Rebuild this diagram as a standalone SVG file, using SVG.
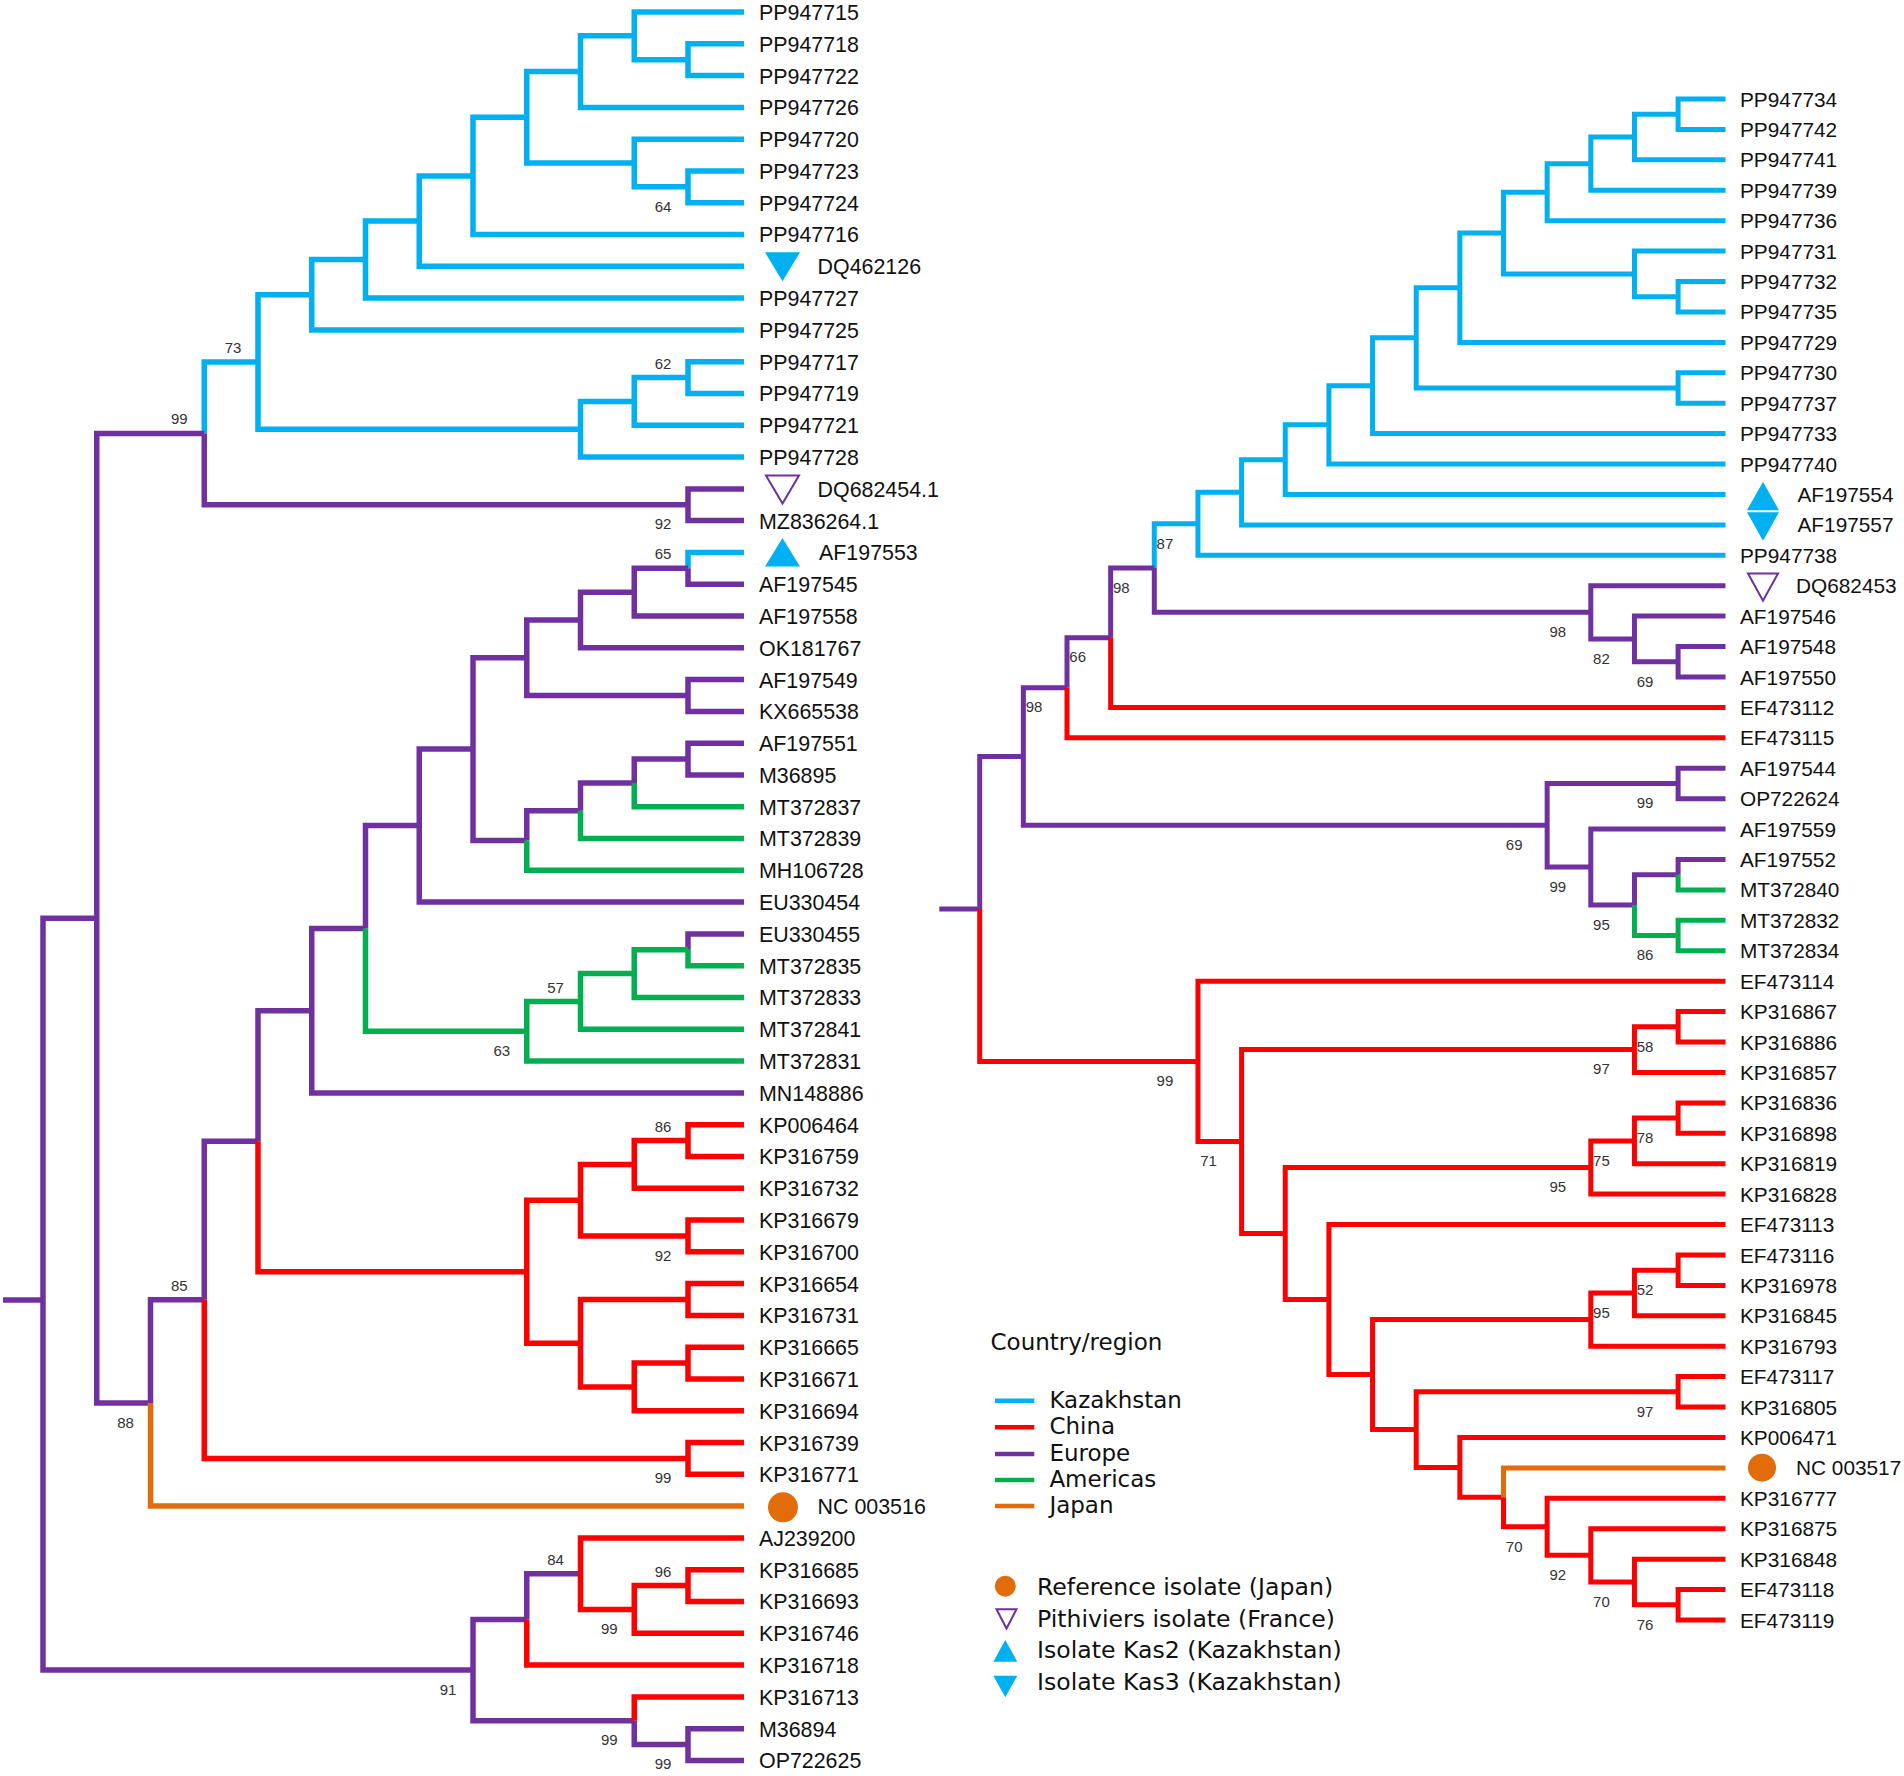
<svg xmlns="http://www.w3.org/2000/svg" width="1904" height="1776" viewBox="0 0 1904 1776">
<style>
.br{fill:none;stroke-linejoin:miter;stroke-linecap:butt}
.bl{stroke-width:5.5}
.bright{stroke-width:5}
.cy{stroke:#00B0F0}
.pu{stroke:#7030A0}
.gr{stroke:#00B050}
.rd{stroke:#FF0000}
.or{stroke:#E36C0A}
.lt{font-family:"Liberation Sans",Arial,sans-serif;font-size:21.4px;fill:#111}
.rt{font-family:"Liberation Sans",Arial,sans-serif;font-size:20.8px;fill:#111}
.bs{font-family:"Liberation Sans",Arial,sans-serif;font-size:15px;fill:#333;text-anchor:middle}
.lg{font-family:"DejaVu Sans","Liberation Sans",sans-serif;font-size:23px;fill:#111}
.lg2{font-family:"DejaVu Sans","Liberation Sans",sans-serif;font-size:23.6px;fill:#111}
.fcy{fill:#00B0F0}
.fop{fill:none;stroke:#7030A0;stroke-width:2}
.for{fill:#E36C0A}
</style>
<rect width="1904" height="1776" fill="#fff"/>
<g id="connectors">
<g id="left-branches" class="br bl">
<path class="cy" d="M204.25 433.4V362H258M258 362V294.75H311.75M258 362V429.2H580.5M311.75 294.75V259.6H365.5M311.75 294.75V329.9H744M365.5 259.6V221.1H419.25M365.5 259.6V298.1H744M419.25 221.1V175.9H473M419.25 221.1V266.3H744M473 175.9V117.3H526.75M473 175.9V234.5H744M526.75 117.3V71.6H580.5M526.75 117.3V163H634.25M580.5 71.6V35.85H634.25M580.5 71.6V107.4H744M634.25 35.85V12H744M634.25 35.85V59.7H688M688 59.7V43.8H744M688 59.7V75.6H744M634.25 163V139.2H744M634.25 163V186.85H688M688 186.85V171H744M688 186.85V202.7H744M580.5 429.2V401.4H634.25M580.5 429.2V457.1H744M634.25 401.4V377.6H688M634.25 401.4V425.3H744M688 377.6V361.7H744M688 377.6V393.5H744M688 568.3V552.4H744"/>
<path class="pu" d="M3 1300H43M43 1300V918.2H96.75M43 1300V1670.05H473M96.75 918.2V433.4H204.25M96.75 918.2V1403H150.5M204.25 433.4V504.75H688M688 504.75V488.9H744M688 504.75V520.6H744M150.5 1403V1299.8H204.25M204.25 1299.8V1141.2H258M258 1141.2V1010.7H311.75M311.75 1010.7V928.5H365.5M311.75 1010.7V1092.9H744M365.5 928.5V825.6H419.25M419.25 825.6V749.1H473M419.25 825.6V902.1H744M473 749.1V657.75H526.75M473 749.1V840.5H526.75M526.75 657.75V620H580.5M526.75 657.75V695.5H688M580.5 620V592.2H634.25M580.5 620V647.8H744M634.25 592.2V568.3H688M634.25 592.2V616H744M688 568.3V584.2H744M688 695.5V679.6H744M688 695.5V711.4H744M526.75 840.5V810.7H580.5M580.5 810.7V782.9H634.25M634.25 782.9V759.1H688M688 759.1V743.2H744M688 759.1V775H744M688 949.8V933.9H744M473 1670.05V1619.4H526.75M473 1670.05V1720.7H634.25M526.75 1619.4V1573.7H580.5M634.25 1720.7V1744.6H688M688 1744.6V1728.7H744M688 1744.6V1760.5H744"/>
<path class="gr" d="M365.5 928.5V1031.3H526.75M526.75 1031.3V1001.5H580.5M526.75 1031.3V1061.1H744M580.5 1001.5V973.6H634.25M580.5 1001.5V1029.3H744M634.25 973.6V949.8H688M634.25 973.6V997.5H744M688 949.8V965.7H744M526.75 840.5V870.3H744M580.5 810.7V838.5H744M634.25 782.9V806.8H744"/>
<path class="rd" d="M204.25 1299.8V1458.4H688M688 1458.4V1442.6H744M688 1458.4V1474.3H744M258 1141.2V1271.7H526.75M526.75 1271.7V1200.15H580.5M526.75 1271.7V1343.2H580.5M580.5 1200.15V1164.4H634.25M580.5 1200.15V1235.9H688M634.25 1164.4V1140.5H688M634.25 1164.4V1188.2H744M688 1140.5V1124.7H744M688 1140.5V1156.4H744M688 1235.9V1220H744M688 1235.9V1251.8H744M580.5 1343.2V1299.5H688M580.5 1343.2V1386.9H634.25M688 1299.5V1283.6H744M688 1299.5V1315.4H744M634.25 1386.9V1363.1H688M634.25 1386.9V1410.8H744M688 1363.1V1347.2H744M688 1363.1V1379H744M526.75 1619.4V1665.1H744M580.5 1573.7V1537.9H744M580.5 1573.7V1609.4H634.25M634.25 1609.4V1585.6H688M634.25 1609.4V1633.3H744M688 1585.6V1569.7H744M688 1585.6V1601.5H744M634.25 1720.7V1696.9H744"/>
<path class="or" d="M150.5 1403V1506.1H744"/>
</g>
<g id="right-branches" class="br bright">
<path class="cy" d="M1154.3 568.05V523.8H1197.95M1197.95 523.8V492.3H1241.6M1197.95 523.8V555.3H1725.5M1241.6 492.3V459.7H1285.25M1241.6 492.3V524.9H1725.5M1285.25 459.7V424.85H1328.9M1285.25 459.7V494.5H1725.5M1328.9 424.85V385.7H1372.55M1328.9 424.85V464H1725.5M1372.55 385.7V337.85H1416.2M1372.55 385.7V433.6H1725.5M1416.2 337.85V287.7H1459.85M1416.2 337.85V388H1678.1M1678.1 388V372.8H1725.5M1678.1 388V403.2H1725.5M1459.85 287.7V233.05H1503.5M1459.85 287.7V342.4H1725.5M1503.5 233.05V192.2H1547.15M1503.5 233.05V273.9H1634.45M1634.45 273.9V251.1H1725.5M1634.45 273.9V296.7H1678.1M1678.1 296.7V281.5H1725.5M1678.1 296.7V311.9H1725.5M1547.15 192.2V163.65H1590.8M1547.15 192.2V220.7H1725.5M1590.8 163.65V137H1634.45M1590.8 163.65V190.3H1725.5M1634.45 137V114.2H1678.1M1634.45 137V159.8H1725.5M1678.1 114.2V99H1725.5M1678.1 114.2V129.4H1725.5"/>
<path class="pu" d="M939.3 909H979.7M979.7 909V756.5H1023.35M1023.35 756.5V687.75H1067M1023.35 756.5V825.3H1547.15M1067 687.75V637.7H1110.65M1110.65 637.7V568.05H1154.3M1154.3 568.05V612.3H1590.8M1590.8 612.3V585.7H1725.5M1590.8 612.3V638.95H1634.45M1634.45 638.95V616.1H1725.5M1634.45 638.95V661.8H1678.1M1678.1 661.8V646.6H1725.5M1678.1 661.8V677H1725.5M1547.15 825.3V783.45H1678.1M1547.15 825.3V867.1H1590.8M1678.1 783.45V768.2H1725.5M1678.1 783.45V798.7H1725.5M1590.8 867.1V829.1H1725.5M1590.8 867.1V905.1H1634.45M1634.45 905.1V874.7H1678.1M1678.1 874.7V859.5H1725.5"/>
<path class="gr" d="M1634.45 905.1V935.55H1678.1M1678.1 935.55V920.3H1725.5M1678.1 935.55V950.8H1725.5M1678.1 874.7V889.9H1725.5"/>
<path class="rd" d="M979.7 909V1061.4H1197.95M1067 687.75V737.8H1725.5M1110.65 637.7V707.4H1725.5M1197.95 1061.4V981.2H1725.5M1197.95 1061.4V1141.55H1241.6M1241.6 1141.55V1049.6H1634.45M1241.6 1141.55V1233.5H1285.25M1634.45 1049.6V1026.8H1678.1M1634.45 1049.6V1072.4H1725.5M1678.1 1026.8V1011.6H1725.5M1678.1 1026.8V1042H1725.5M1285.25 1233.5V1167.5H1590.8M1285.25 1233.5V1299.55H1328.9M1590.8 1167.5V1140.9H1634.45M1590.8 1167.5V1194.1H1725.5M1634.45 1140.9V1118.1H1678.1M1634.45 1140.9V1163.7H1725.5M1678.1 1118.1V1102.9H1725.5M1678.1 1118.1V1133.3H1725.5M1328.9 1299.55V1224.5H1725.5M1328.9 1299.55V1374.6H1372.55M1372.55 1374.6V1319.6H1590.8M1372.55 1374.6V1429.6H1416.2M1590.8 1319.6V1293H1634.45M1590.8 1319.6V1346.2H1725.5M1634.45 1293V1270.2H1678.1M1634.45 1293V1315.8H1725.5M1678.1 1270.2V1255H1725.5M1678.1 1270.2V1285.4H1725.5M1416.2 1429.6V1391.85H1678.1M1416.2 1429.6V1467.4H1459.85M1678.1 1391.85V1376.6H1725.5M1678.1 1391.85V1407.1H1725.5M1459.85 1467.4V1437.5H1725.5M1459.85 1467.4V1497.35H1503.5M1503.5 1497.35V1526.8H1547.15M1547.15 1526.8V1498.3H1725.5M1547.15 1526.8V1555.35H1590.8M1590.8 1555.35V1528.7H1725.5M1590.8 1555.35V1582H1634.45M1634.45 1582V1559.2H1725.5M1634.45 1582V1604.8H1678.1M1678.1 1604.8V1589.6H1725.5M1678.1 1604.8V1620H1725.5"/>
<path class="or" d="M1503.5 1497.35V1467.9H1725.5"/>
</g>
</g>
<g id="left-leaves" class="lt">
<g id="n-PP947715"><text x="759" y="19.9">PP947715</text></g>
<g id="n-PP947718"><text x="759" y="51.7">PP947718</text></g>
<g id="n-PP947722"><text x="759" y="83.5">PP947722</text></g>
<g id="n-PP947726"><text x="759" y="115.3">PP947726</text></g>
<g id="n-PP947720"><text x="759" y="147.1">PP947720</text></g>
<g id="n-PP947723"><text x="759" y="178.9">PP947723</text></g>
<g id="n-PP947724"><text x="759" y="210.6">PP947724</text></g>
<g id="n-PP947716"><text x="759" y="242.4">PP947716</text></g>
<g id="n-DQ462126"><polygon class="fcy" points="765,252.3 800,252.3 782.5,281.3"/><text x="817.6" y="274.2">DQ462126</text></g>
<g id="n-PP947727"><text x="759" y="306">PP947727</text></g>
<g id="n-PP947725"><text x="759" y="337.8">PP947725</text></g>
<g id="n-PP947717"><text x="759" y="369.6">PP947717</text></g>
<g id="n-PP947719"><text x="759" y="401.4">PP947719</text></g>
<g id="n-PP947721"><text x="759" y="433.2">PP947721</text></g>
<g id="n-PP947728"><text x="759" y="465">PP947728</text></g>
<g id="n-DQ682454.1"><polygon class="fop" points="766,475.5 799,475.5 782.5,503.5"/><text x="817.6" y="496.8">DQ682454.1</text></g>
<g id="n-MZ836264.1"><text x="759" y="528.5">MZ836264.1</text></g>
<g id="n-AF197553"><polygon class="fcy" points="782.5,538 765,566.4 800,566.4"/><text x="819" y="560.3">AF197553</text></g>
<g id="n-AF197545"><text x="759" y="592.1">AF197545</text></g>
<g id="n-AF197558"><text x="759" y="623.9">AF197558</text></g>
<g id="n-OK181767"><text x="759" y="655.7">OK181767</text></g>
<g id="n-AF197549"><text x="759" y="687.5">AF197549</text></g>
<g id="n-KX665538"><text x="759" y="719.3">KX665538</text></g>
<g id="n-AF197551"><text x="759" y="751.1">AF197551</text></g>
<g id="n-M36895"><text x="759" y="782.9">M36895</text></g>
<g id="n-MT372837"><text x="759" y="814.7">MT372837</text></g>
<g id="n-MT372839"><text x="759" y="846.4">MT372839</text></g>
<g id="n-MH106728"><text x="759" y="878.2">MH106728</text></g>
<g id="n-EU330454"><text x="759" y="910">EU330454</text></g>
<g id="n-EU330455"><text x="759" y="941.8">EU330455</text></g>
<g id="n-MT372835"><text x="759" y="973.6">MT372835</text></g>
<g id="n-MT372833"><text x="759" y="1005.4">MT372833</text></g>
<g id="n-MT372841"><text x="759" y="1037.2">MT372841</text></g>
<g id="n-MT372831"><text x="759" y="1069">MT372831</text></g>
<g id="n-MN148886"><text x="759" y="1100.8">MN148886</text></g>
<g id="n-KP006464"><text x="759" y="1132.6">KP006464</text></g>
<g id="n-KP316759"><text x="759" y="1164.3">KP316759</text></g>
<g id="n-KP316732"><text x="759" y="1196.1">KP316732</text></g>
<g id="n-KP316679"><text x="759" y="1227.9">KP316679</text></g>
<g id="n-KP316700"><text x="759" y="1259.7">KP316700</text></g>
<g id="n-KP316654"><text x="759" y="1291.5">KP316654</text></g>
<g id="n-KP316731"><text x="759" y="1323.3">KP316731</text></g>
<g id="n-KP316665"><text x="759" y="1355.1">KP316665</text></g>
<g id="n-KP316671"><text x="759" y="1386.9">KP316671</text></g>
<g id="n-KP316694"><text x="759" y="1418.7">KP316694</text></g>
<g id="n-KP316739"><text x="759" y="1450.5">KP316739</text></g>
<g id="n-KP316771"><text x="759" y="1482.2">KP316771</text></g>
<g id="n-NC003516"><circle class="for" cx="783" cy="1507.3" r="15"/><text x="817.6" y="1514">NC 003516</text></g>
<g id="n-AJ239200"><text x="759" y="1545.8">AJ239200</text></g>
<g id="n-KP316685"><text x="759" y="1577.6">KP316685</text></g>
<g id="n-KP316693"><text x="759" y="1609.4">KP316693</text></g>
<g id="n-KP316746"><text x="759" y="1641.2">KP316746</text></g>
<g id="n-KP316718"><text x="759" y="1673">KP316718</text></g>
<g id="n-KP316713"><text x="759" y="1704.8">KP316713</text></g>
<g id="n-M36894"><text x="759" y="1736.6">M36894</text></g>
<g id="n-OP722625"><text x="759" y="1768.4">OP722625</text></g>
</g>
<g id="right-leaves" class="rt">
<g id="n-PP947734"><text x="1740" y="106.5">PP947734</text></g>
<g id="n-PP947742"><text x="1740" y="136.9">PP947742</text></g>
<g id="n-PP947741"><text x="1740" y="167.3">PP947741</text></g>
<g id="n-PP947739"><text x="1740" y="197.8">PP947739</text></g>
<g id="n-PP947736"><text x="1740" y="228.2">PP947736</text></g>
<g id="n-PP947731"><text x="1740" y="258.6">PP947731</text></g>
<g id="n-PP947732"><text x="1740" y="289">PP947732</text></g>
<g id="n-PP947735"><text x="1740" y="319.4">PP947735</text></g>
<g id="n-PP947729"><text x="1740" y="349.9">PP947729</text></g>
<g id="n-PP947730"><text x="1740" y="380.3">PP947730</text></g>
<g id="n-PP947737"><text x="1740" y="410.7">PP947737</text></g>
<g id="n-PP947733"><text x="1740" y="441.1">PP947733</text></g>
<g id="n-PP947740"><text x="1740" y="471.5">PP947740</text></g>
<g id="n-AF197554"><polygon class="fcy" points="1763,481.7 1747,510.2 1779,510.2"/><text x="1797.5" y="502">AF197554</text></g>
<g id="n-AF197557"><polygon class="fcy" points="1747,512.3 1779,512.3 1763,540.7"/><text x="1797.5" y="532.4">AF197557</text></g>
<g id="n-PP947738"><text x="1740" y="562.8">PP947738</text></g>
<g id="n-DQ682453"><polygon class="fop" points="1748,573.5 1778,573.5 1763,600.7"/><text x="1796" y="593.2">DQ682453</text></g>
<g id="n-AF197546"><text x="1740" y="623.6">AF197546</text></g>
<g id="n-AF197548"><text x="1740" y="654.1">AF197548</text></g>
<g id="n-AF197550"><text x="1740" y="684.5">AF197550</text></g>
<g id="n-EF473112"><text x="1740" y="714.9">EF473112</text></g>
<g id="n-EF473115"><text x="1740" y="745.3">EF473115</text></g>
<g id="n-AF197544"><text x="1740" y="775.7">AF197544</text></g>
<g id="n-OP722624"><text x="1740" y="806.2">OP722624</text></g>
<g id="n-AF197559"><text x="1740" y="836.6">AF197559</text></g>
<g id="n-AF197552"><text x="1740" y="867">AF197552</text></g>
<g id="n-MT372840"><text x="1740" y="897.4">MT372840</text></g>
<g id="n-MT372832"><text x="1740" y="927.8">MT372832</text></g>
<g id="n-MT372834"><text x="1740" y="958.3">MT372834</text></g>
<g id="n-EF473114"><text x="1740" y="988.7">EF473114</text></g>
<g id="n-KP316867"><text x="1740" y="1019.1">KP316867</text></g>
<g id="n-KP316886"><text x="1740" y="1049.5">KP316886</text></g>
<g id="n-KP316857"><text x="1740" y="1079.9">KP316857</text></g>
<g id="n-KP316836"><text x="1740" y="1110.4">KP316836</text></g>
<g id="n-KP316898"><text x="1740" y="1140.8">KP316898</text></g>
<g id="n-KP316819"><text x="1740" y="1171.2">KP316819</text></g>
<g id="n-KP316828"><text x="1740" y="1201.6">KP316828</text></g>
<g id="n-EF473113"><text x="1740" y="1232">EF473113</text></g>
<g id="n-EF473116"><text x="1740" y="1262.5">EF473116</text></g>
<g id="n-KP316978"><text x="1740" y="1292.9">KP316978</text></g>
<g id="n-KP316845"><text x="1740" y="1323.3">KP316845</text></g>
<g id="n-KP316793"><text x="1740" y="1353.7">KP316793</text></g>
<g id="n-EF473117"><text x="1740" y="1384.1">EF473117</text></g>
<g id="n-KP316805"><text x="1740" y="1414.6">KP316805</text></g>
<g id="n-KP006471"><text x="1740" y="1445">KP006471</text></g>
<g id="n-NC003517"><circle class="for" cx="1762" cy="1467.7" r="14"/><text x="1796" y="1475.4">NC 003517</text></g>
<g id="n-KP316777"><text x="1740" y="1505.8">KP316777</text></g>
<g id="n-KP316875"><text x="1740" y="1536.2">KP316875</text></g>
<g id="n-KP316848"><text x="1740" y="1566.7">KP316848</text></g>
<g id="n-EF473118"><text x="1740" y="1597.1">EF473118</text></g>
<g id="n-EF473119"><text x="1740" y="1627.5">EF473119</text></g>
</g>
<g id="bootstrap" class="bs">
<text x="663" y="211.5">64</text>
<text x="663" y="368.6">62</text>
<text x="233" y="353">73</text>
<text x="179.25" y="424.4">99</text>
<text x="663" y="529.45">92</text>
<text x="663" y="559.3">65</text>
<text x="555.5" y="992.5">57</text>
<text x="501.75" y="1056">63</text>
<text x="663" y="1131.5">86</text>
<text x="663" y="1260.6">92</text>
<text x="179.25" y="1290.8">85</text>
<text x="125.5" y="1427.7">88</text>
<text x="663" y="1483.1">99</text>
<text x="555.5" y="1564.7">84</text>
<text x="663" y="1576.6">96</text>
<text x="609.25" y="1634.1">99</text>
<text x="448" y="1694.75">91</text>
<text x="609.25" y="1745.4">99</text>
<text x="663" y="1769.3">99</text>
<text x="1164.95" y="548.5">87</text>
<text x="1121.3" y="592.75">98</text>
<text x="1077.65" y="662.4">66</text>
<text x="1034" y="712.45">98</text>
<text x="1557.8" y="637">98</text>
<text x="1601.45" y="663.65">82</text>
<text x="1645.1" y="686.5">69</text>
<text x="1645.1" y="808.15">99</text>
<text x="1514.15" y="850">69</text>
<text x="1557.8" y="891.8">99</text>
<text x="1601.45" y="929.8">95</text>
<text x="1645.1" y="960.25">86</text>
<text x="1164.95" y="1086.1">99</text>
<text x="1208.6" y="1166.25">71</text>
<text x="1645.1" y="1051.5">58</text>
<text x="1601.45" y="1074.3">97</text>
<text x="1645.1" y="1142.8">78</text>
<text x="1601.45" y="1165.6">75</text>
<text x="1557.8" y="1192.2">95</text>
<text x="1645.1" y="1294.9">52</text>
<text x="1601.45" y="1317.7">95</text>
<text x="1645.1" y="1416.55">97</text>
<text x="1514.15" y="1551.5">70</text>
<text x="1557.8" y="1580.05">92</text>
<text x="1601.45" y="1606.7">70</text>
<text x="1645.1" y="1629.5">76</text>
</g>
<g id="legend">
<text class="lg" x="990.5" y="1350">Country/region</text>
<g stroke-width="4.5">
<line class="cy" x1="995" y1="1400.7" x2="1034.3" y2="1400.7"/>
<line class="rd" x1="995" y1="1427.3" x2="1034.3" y2="1427.3"/>
<line class="pu" x1="995" y1="1454" x2="1034.3" y2="1454"/>
<line class="gr" x1="995" y1="1480" x2="1034.3" y2="1480"/>
<line class="or" x1="995" y1="1506" x2="1034.3" y2="1506"/>
</g>
<text class="lg" x="1049.4" y="1408.3">Kazakhstan</text>
<text class="lg" x="1049.4" y="1434.4">China</text>
<text class="lg" x="1049.4" y="1460.5">Europe</text>
<text class="lg" x="1049.4" y="1486.6">Americas</text>
<text class="lg" x="1049.4" y="1512.7">Japan</text>
<circle class="for" cx="1005.3" cy="1586.2" r="10.5"/>
<polygon class="fop" points="996.5,1609.3 1016.5,1609.3 1006.5,1628.5"/>
<polygon class="fcy" points="1005.3,1640 993.3,1661.7 1017.3,1661.7"/>
<polygon class="fcy" points="993.3,1675.7 1017.3,1675.7 1005.3,1697.3"/>
<text class="lg2" x="1037" y="1595">Reference isolate (Japan)</text>
<text class="lg2" x="1037" y="1626.5">Pithiviers isolate (France)</text>
<text class="lg2" x="1037" y="1658">Isolate Kas2 (Kazakhstan)</text>
<text class="lg2" x="1037" y="1689.5">Isolate Kas3 (Kazakhstan)</text>
</g>
</svg>
